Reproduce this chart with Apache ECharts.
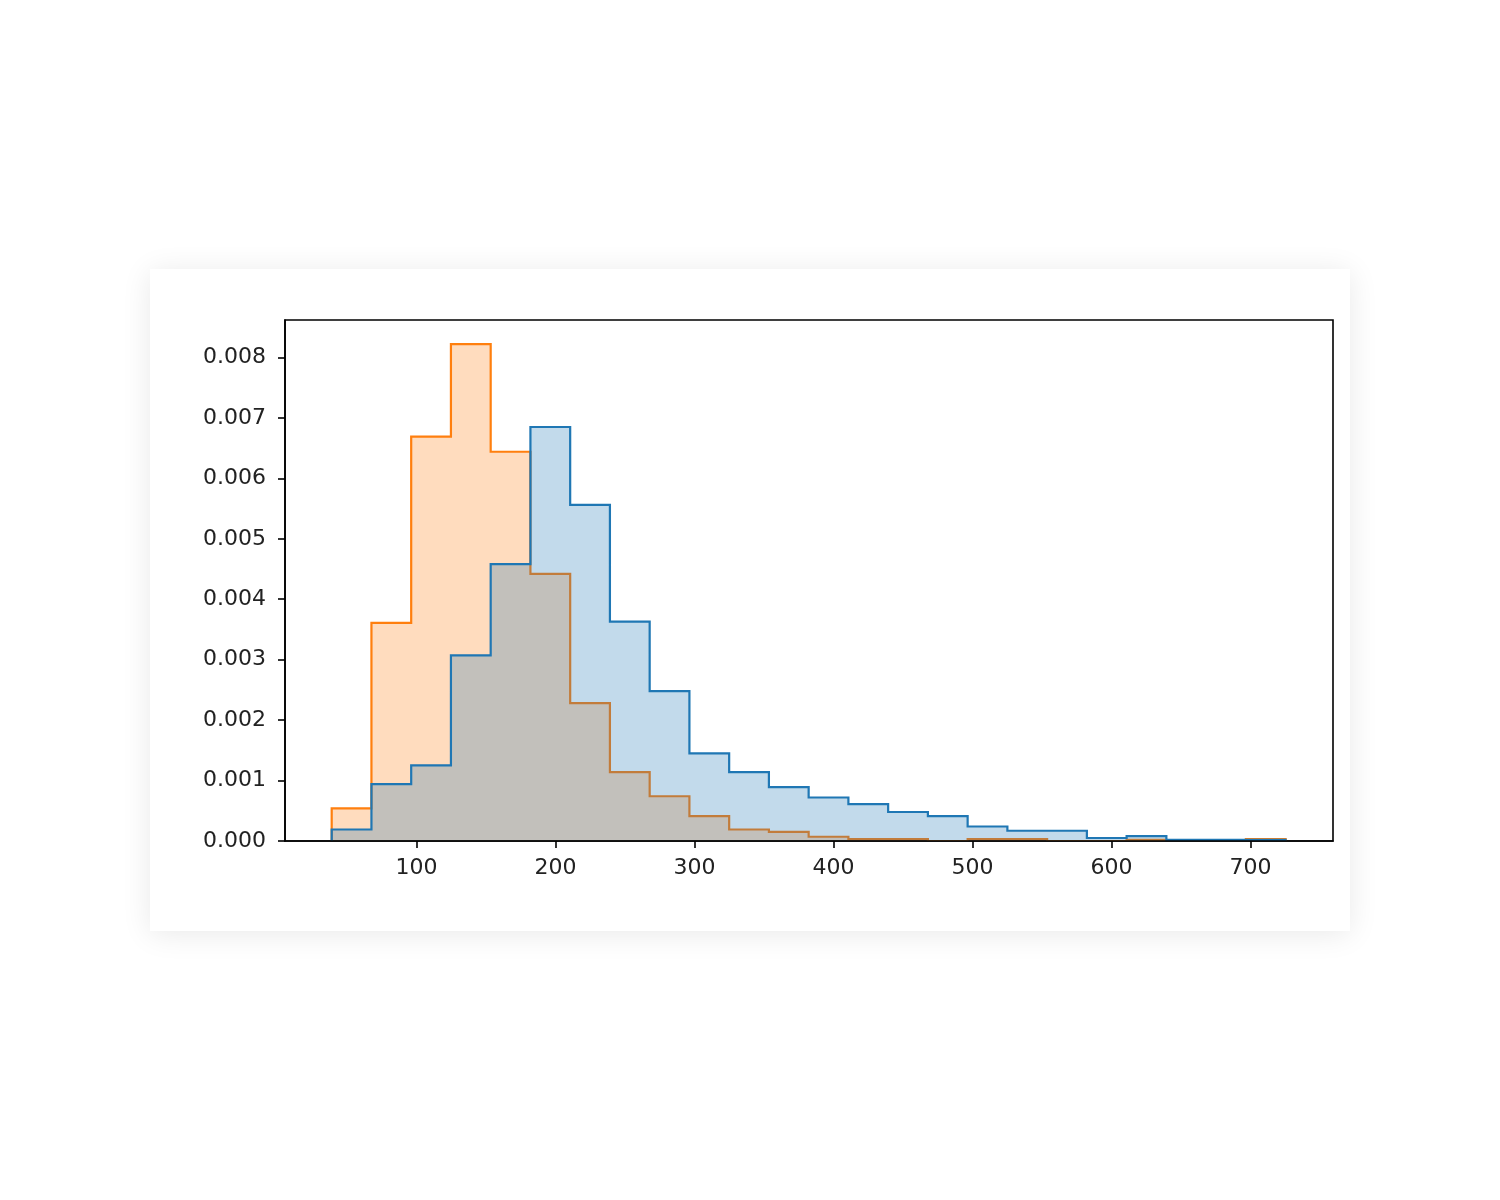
<!DOCTYPE html>
<html>
<head>
<meta charset="utf-8">
<script src="https://cdn.jsdelivr.net/npm/echarts@6/dist/echarts.min.js"></script>
<style>
  html, body { margin: 0; padding: 0; background: #ffffff; width: 1500px; height: 1200px; overflow: hidden; }
  #card { position: absolute; left: 150px; top: 269px; width: 1200px; height: 662px; background: #ffffff;
          box-shadow: 0 3px 28px rgba(0,0,0,0.09); }
  #chart { width: 1200px; height: 662px; }
</style>
</head>
<body>
<div id="card"><div id="chart"></div></div>
<script>
// Histogram bin edges (shared by both series)
const binEdges = [38.9, 67.5, 96.1, 124.7, 153.3, 181.9, 210.5, 239.1, 267.7, 296.3, 324.9, 353.5, 382.1,
                  410.7, 439.3, 467.9, 496.5, 525.1, 553.7, 582.3, 610.9, 639.5, 668.1, 696.7, 725.3];
// Density per bin
const blueDensity = [0.00019, 0.00094, 0.00125, 0.00307, 0.00458, 0.00685, 0.00556, 0.00363, 0.00248, 0.00145,
                     0.00114, 0.00089, 0.00072, 0.00061, 0.00048, 0.00041, 0.00024, 0.00017, 0.00017, 0.00005,
                     0.00008, 0.00002, 0.00002, 0.00002];
const orangeDensity = [0.00054, 0.00361, 0.00669, 0.00822, 0.00644, 0.00442, 0.00228, 0.00114, 0.00074, 0.00041,
                       0.00019, 0.00015, 0.00007, 0.00003, 0.00003, 0, 0.00003, 0.00003, 0,
                       0, 0.00002, 0, 0, 0.00003];
const xTicks = [100, 200, 300, 400, 500, 600, 700];
const yTicks = [0, 0.001, 0.002, 0.003, 0.004, 0.005, 0.006, 0.007, 0.008];
const xRange = [5.3, 759.4];
const yRange = [0, 0.00862];

// Outline of a step histogram: left edge up, flat top across each bin, down at the right end.
function stepData(edges, vals) {
  const d = [[edges[0], 0]];
  for (let i = 0; i < vals.length; i++) {
    d.push([edges[i], vals[i]]);
    d.push([edges[i + 1], vals[i]]);
  }
  d.push([edges[edges.length - 1], 0]);
  return d;
}

function histSeries(name, vals, stroke, fill, z) {
  const pts = stepData(binEdges, vals);
  return {
    type: 'custom', name: name, z: z, clip: true,
    data: pts, encode: { x: 0, y: 1 },
    renderItem: function (params, api) {
      if (params.dataIndex !== 0) return null;
      const px = pts.map(p => api.coord(p));
      return {
        type: 'group',
        children: [
          { type: 'polygon', z2: 0, shape: { points: px }, style: { fill: fill, stroke: null } },
          { type: 'polyline', z2: 1, shape: { points: px },
            style: { fill: null, stroke: stroke, lineWidth: 2.2, lineJoin: 'miter', lineCap: 'butt' } }
        ]
      };
    }
  };
}

const txt = { color: '#222', fontFamily: 'DejaVu Sans', fontSize: 22 };
const chart = echarts.init(document.getElementById('chart'), null, { renderer: 'canvas' });
chart.setOption({
  animation: false,
  backgroundColor: 'transparent',
  grid: { left: 135, top: 51, right: 17, bottom: 90, show: true, borderColor: '#000', borderWidth: 1.6, backgroundColor: 'transparent', containLabel: false },
  xAxis: {
    type: 'value', min: xRange[0], max: xRange[1], z: 10,
    splitLine: { show: false },
    axisLine: { show: true, onZero: false, lineStyle: { color: '#000', width: 1.6 } },
    axisTick: { show: true, inside: false, length: 7, customValues: xTicks, lineStyle: { color: '#000', width: 1.6 } },
    axisLabel: Object.assign({ margin: 16, customValues: xTicks, formatter: v => String(Math.round(v)) }, txt)
  },
  yAxis: {
    type: 'value', min: yRange[0], max: yRange[1], z: 10,
    splitLine: { show: false },
    axisLine: { show: true, lineStyle: { color: '#000', width: 1.6 } },
    axisTick: { show: true, inside: false, length: 7, customValues: yTicks, lineStyle: { color: '#000', width: 1.6 } },
    axisLabel: Object.assign({ margin: 19, customValues: yTicks, formatter: v => v.toFixed(3) }, txt)
  },
  series: [
    histSeries('orange', orangeDensity, '#ff7f0e', 'rgba(255,127,14,0.27)', 2),
    histSeries('blue', blueDensity, '#1f77b4', 'rgba(31,119,180,0.27)', 3)
  ]
});
</script>
</body>
</html>
